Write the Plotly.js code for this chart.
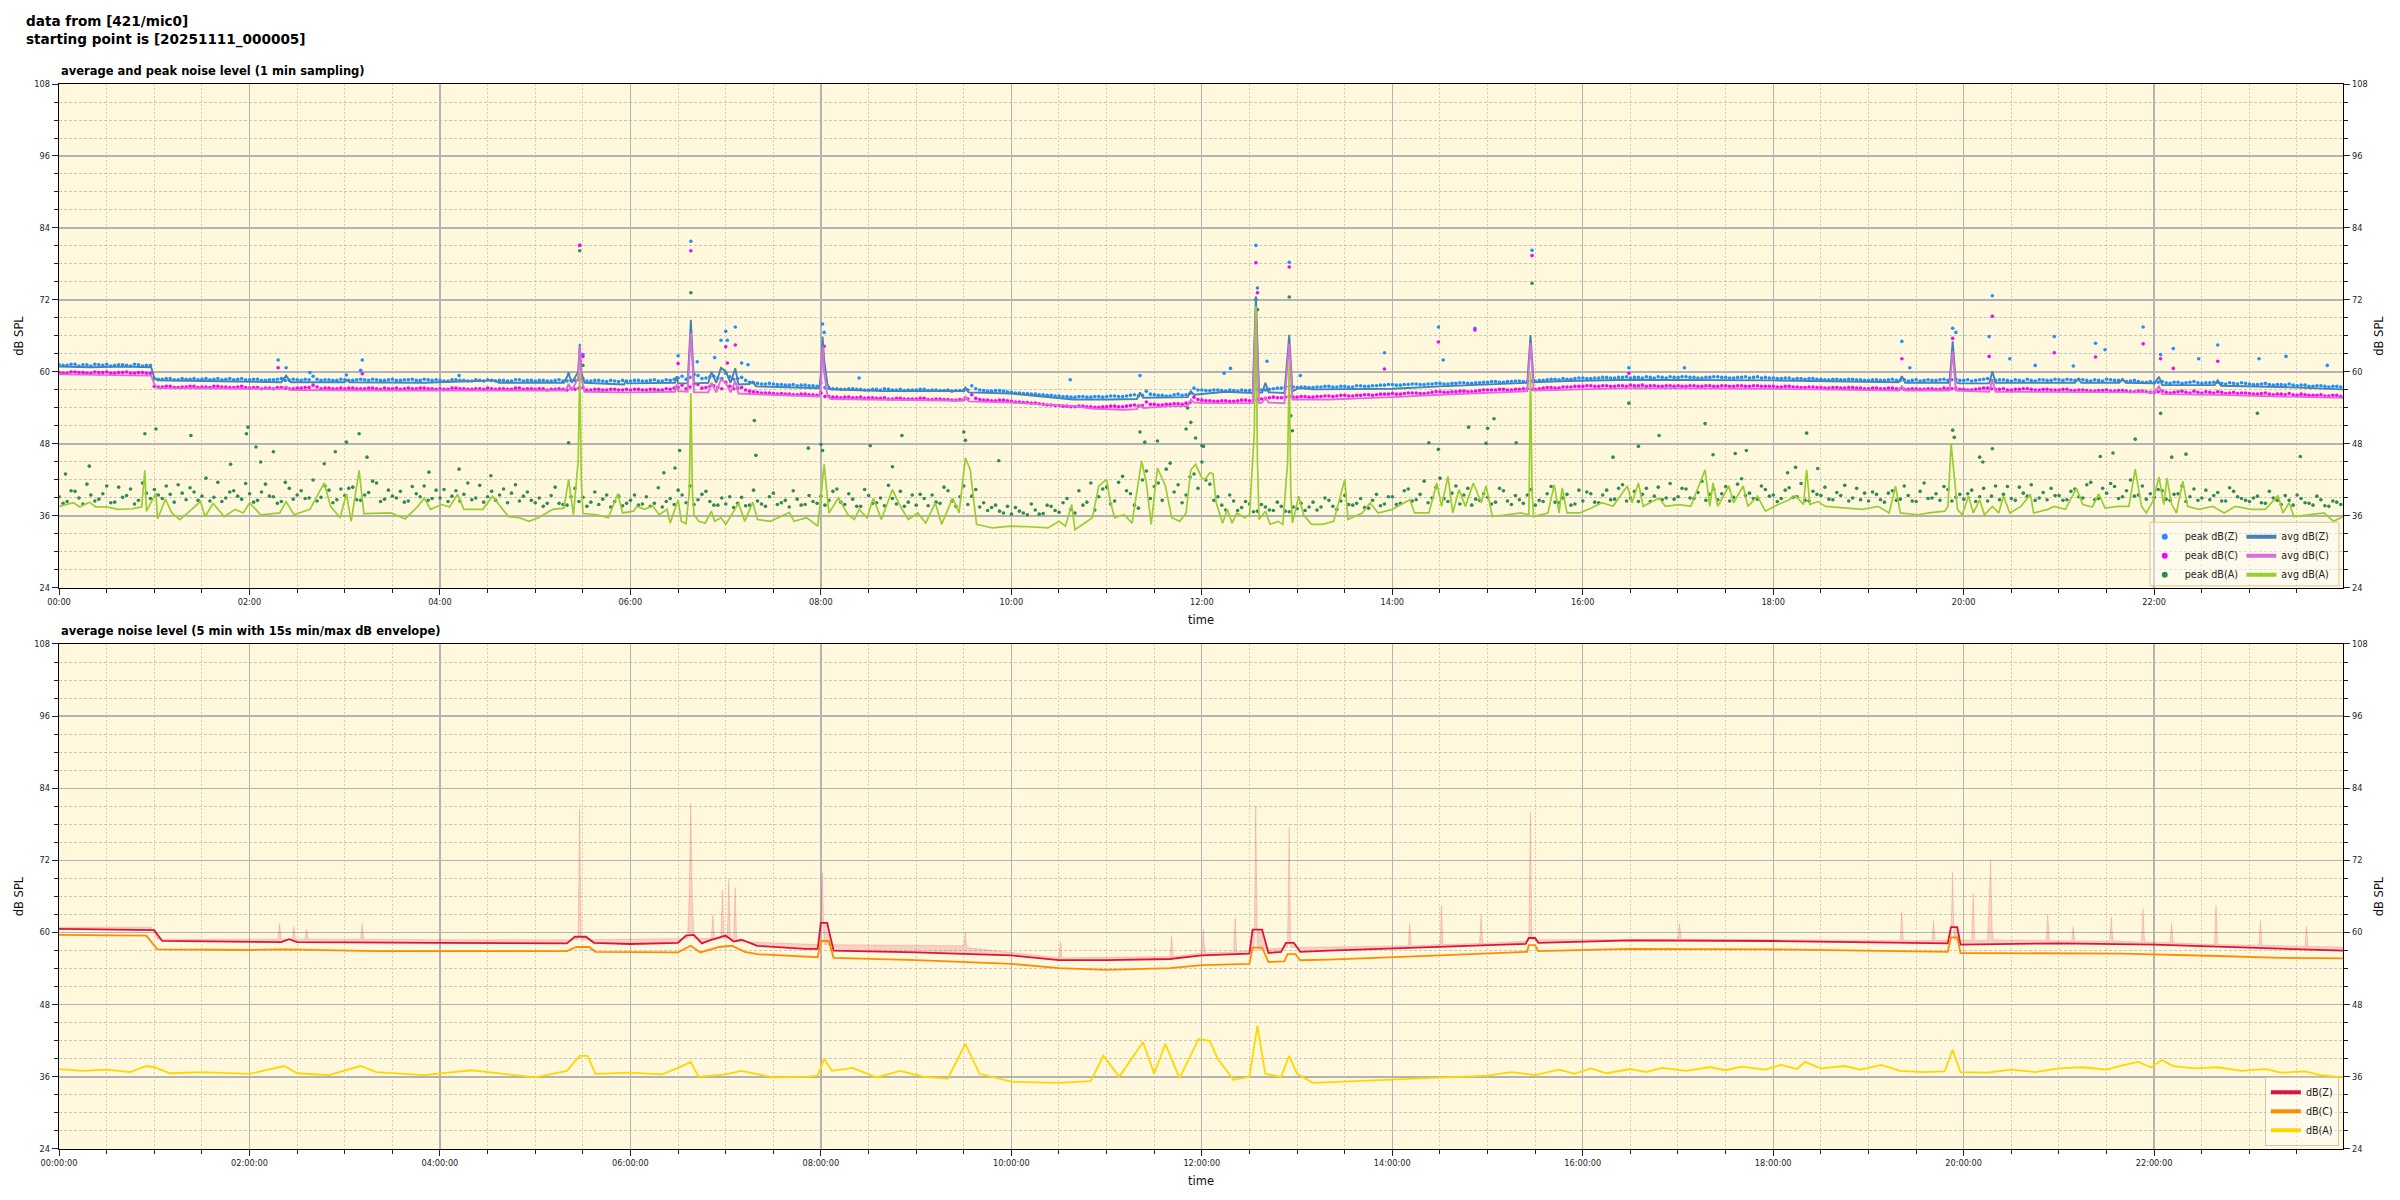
<!DOCTYPE html>
<html><head><meta charset="utf-8">
<script src="https://cdn.plot.ly/plotly-3.0.1.min.js"></script>
<style>html,body{margin:0;padding:0;background:#fff;}#chart{width:2400px;height:1200px;}</style>
</head><body><div id="chart"></div>
<script>
// ---------- top chart: 1-min averages (minute of day, dB) ----------
const avgZ_min=[0,20,40,58,60,62,90,120,140,143,146,180,181,183,230,275,277,318,321,323,327,328,329,331,356,357,358,388,389,390,396,398,400,409,411,414,417,420,423,426,428,435,437,439,470,479,480,481,482,484,486,520,560,569,571,573,600,620,639,660,679,681,683,711,713,715,725,735,752,754,756,758,760,762,772,775,777,781,790,840,870,900,925,927,929,950,990,1080,1120,1150,1159,1161,1163,1191,1193,1195,1197,1216,1218,1220,1270,1272,1274,1298,1300,1302,1320,1323,1325,1358,1360,1362,1400,1439];
const avgZ_db=[60.9,60.8,60.9,60.8,59.0,58.6,58.5,58.4,58.3,59.4,58.3,58.3,58.7,58.3,58.2,58.6,58.2,58.2,59.7,58.2,60.0,64.7,60.0,58.2,57.9,58.5,58.1,58.2,59.3,58.1,58.1,68.7,58.1,58.2,60.0,58.2,60.7,60.1,58.2,60.6,57.9,58.0,58.4,57.6,57.4,57.3,60.0,65.9,62.0,58.0,57.1,56.8,56.8,56.8,57.4,56.6,56.4,55.9,55.4,55.4,55.5,56.6,55.7,55.8,56.8,56.2,56.5,56.7,56.5,72.6,56.5,56.6,58.2,56.6,56.5,66.2,56.8,57.3,57.1,57.2,57.6,57.9,58.2,66.1,58.3,58.5,58.7,58.6,58.4,58.3,58.3,59.3,58.2,58.2,65.1,58.3,58.1,58.1,60.1,58.2,58.2,58.8,58.2,58.2,58.8,58.2,58.1,59.2,57.8,57.8,58.6,57.7,57.5,57.1];

const avgC_min=[0,58,60,62,120,141,143,146,200,319,321,323,327,328,329,331,358,388,389,390,396,398,400,409,411,414,417,420,423,426,428,440,479,480,481,482,484,486,540,569,571,573,600,620,640,650,670,679,681,683,700,711,713,715,724,752,754,756,758,760,762,772,775,777,800,840,870,925,927,929,990,1080,1120,1150,1159,1161,1163,1191,1193,1195,1216,1218,1220,1320,1323,1325,1360,1400,1439];
const avgC_db=[59.6,59.4,58.0,57.3,57.2,57.2,57.6,57.0,56.9,56.9,58.0,56.9,59.0,64.3,59.0,56.7,56.6,56.7,57.9,56.8,56.7,66.5,56.6,56.6,58.2,56.6,58.8,58.2,56.6,58.5,56.4,56.3,55.9,58.0,64.3,60.0,56.0,55.5,55.3,55.2,55.9,55.1,54.9,54.6,54.3,53.9,53.7,53.8,54.5,54.0,54.3,54.3,55.4,54.9,54.8,54.8,70.9,54.8,54.9,55.7,54.9,54.8,64.7,55.4,55.4,55.8,56.2,56.8,64.8,56.9,57.3,57.2,57.0,56.9,56.9,57.6,56.9,56.9,63.5,56.9,56.7,58.7,56.7,56.6,57.6,56.3,56.2,55.9,55.7];

const avgA_min=[0,9,13,19,23,30,37,46,52,54,55,61,62,67,71,76,81,89,92,97,104,111,116,120,127,139,143,148,158,167,171,177,181,184,189,192,209,218,226,230,234,241,246,251,255,267,273,278,283,290,296,302,311,318,321,324,327,328,329,330,339,346,352,355,362,364,369,374,378,383,385,390,392,395,397,398,399,400,403,407,411,413,417,420,428,432,437,440,448,453,460,463,471,478,480,482,485,491,497,501,504,509,513,518,525,530,535,541,546,552,556,563,567,571,574,578,588,599,611,623,630,634,638,640,651,655,660,662,665,671,676,682,685,688,692,697,701,706,710,713,716,720,722,725,727,729,733,736,739,742,747,750,753,754,755,756,760,763,768,771,774,775,776,777,781,784,789,796,803,810,812,821,826,831,840,851,854,863,868,871,875,878,882,886,891,896,899,903,912,921,926,927,928,929,938,942,945,947,950,958,965,972,979,988,991,995,998,1008,1012,1021,1028,1037,1040,1042,1045,1052,1055,1061,1064,1070,1075,1083,1090,1094,1099,1101,1103,1108,1113,1125,1136,1146,1153,1157,1160,1171,1178,1188,1190,1192,1193,1196,1199,1203,1206,1210,1213,1218,1222,1225,1229,1236,1242,1244,1253,1257,1264,1271,1275,1281,1285,1289,1297,1304,1308,1312,1315,1319,1323,1326,1328,1331,1334,1338,1341,1348,1357,1364,1371,1381,1390,1398,1401,1405,1408,1418,1427,1433,1439];
const avgA_db=[37.6,38.2,37.5,38.3,37.5,37.5,37.1,37.2,37.5,43.6,36.8,39.8,35.5,38.8,36.5,35.4,36.5,38.4,35.9,38.1,35.9,37.1,36.5,38.2,36.2,36.5,38.4,36.2,37.1,41.5,37.6,35.7,39.7,35.1,43.6,36.4,36.5,35.5,37.6,39.0,37.1,37.9,37.5,39.6,37.1,37.1,39.3,37.6,35.9,35.7,35.1,35.7,37.1,37.3,42.1,36.2,45.0,60.1,42.0,36.4,36.2,35.7,39.7,36.5,36.8,37.6,37.1,37.7,36.2,37.1,34.8,38.7,35.1,34.7,40.0,56.5,40.0,36.2,35.1,34.8,36.8,35.1,35.7,34.6,38.1,35.1,38.3,35.4,35.1,35.7,36.6,35.1,35.7,34.3,40.0,44.6,36.5,39.0,36.2,35.4,37.1,35.7,39.0,35.4,40.4,37.6,35.4,36.5,34.8,38.2,34.6,39.0,36.5,45.7,43.7,34.6,34.0,34.3,34.2,34.0,35.1,34.3,37.9,33.7,35.7,41.0,42.1,38.7,35.7,36.2,34.8,45.2,41.5,34.6,44.0,41.0,35.7,35.1,36.5,43.7,44.6,42.3,42.1,43.2,43.0,38.2,34.8,37.1,34.8,36.5,35.7,36.2,50.0,71.0,45.0,35.4,36.8,34.6,35.1,34.6,45.0,61.5,40.0,34.8,39.3,36.2,34.6,34.6,35.1,42.1,35.4,36.5,38.2,36.5,37.1,38.7,36.5,36.5,41.5,37.6,42.6,36.5,40.4,37.6,41.5,38.2,41.0,35.9,36.2,36.5,36.2,60.0,40.0,35.9,36.5,41.2,36.5,40.7,36.5,36.5,37.3,38.2,37.6,41.0,38.2,41.5,37.6,39.0,37.6,37.9,37.6,43.7,37.6,41.5,37.6,41.0,38.2,41.0,37.6,39.3,36.8,37.9,38.7,39.4,37.9,43.7,37.9,38.4,37.6,37.3,37.1,37.6,36.5,41.0,36.5,36.2,36.5,36.8,37.6,48.1,45.0,37.1,36.2,39.3,36.5,38.7,36.2,37.6,36.5,39.3,36.5,37.6,39.6,36.5,37.1,37.6,37.1,40.6,37.9,37.5,39.7,37.3,37.6,37.6,43.8,37.6,36.5,38.4,42.5,37.9,42.3,37.9,36.5,41.8,37.6,37.1,37.6,36.5,37.6,37.1,37.1,39.4,36.5,38.2,35.9,36.2,36.5,35.1,35.9];

// ---------- top chart: 1-min peaks, read every 5 min (one row per hour), at :00 and :02.5 ----------
const peakZ_5min=[
61.2,61.1,61.3,61.2,61.0,61.2,61.3,61.1,61.2,61.0,61.2,61.1,
58.9,58.8,58.9,58.7,58.8,58.9,58.8,58.7,58.9,58.8,58.7,58.9,
58.7,58.8,58.6,58.7,58.9,58.6,58.7,58.8,59.3,58.6,58.7,58.6,
58.7,58.6,58.8,58.6,58.7,58.6,58.8,58.6,58.7,58.6,58.8,58.6,
58.6,58.5,58.7,58.6,58.5,58.6,58.7,58.5,58.6,58.5,58.7,58.6,
58.5,58.6,58.5,58.7,58.5,58.6,58.9,58.5,58.6,58.4,58.5,58.6,
58.5,58.6,58.5,58.7,58.5,58.6,59.0,58.8,59.6,58.9,59.2,59.0,
59.8,58.8,59.1,58.3,58.1,58.0,58.0,57.9,57.8,57.7,57.8,57.7,
58.2,57.3,57.2,57.1,57.2,57.1,57.0,57.1,57.2,57.0,57.1,57.0,
57.0,57.1,57.0,56.9,57.0,56.9,56.9,57.7,57.0,56.8,56.9,56.8,
56.6,56.5,56.4,56.3,56.2,56.1,56.0,55.9,55.8,55.9,55.8,55.9,
55.9,56.0,55.9,56.1,56.0,56.8,56.2,56.1,56.0,56.3,56.2,57.3,
57.0,56.9,57.0,56.8,56.9,57.0,56.9,57.1,57.0,57.2,57.3,57.6,
57.4,57.5,57.4,57.5,57.6,57.5,57.6,57.5,57.7,57.6,57.7,57.8,
57.9,57.8,57.9,58.0,57.9,58.0,58.1,58.0,58.1,58.2,58.1,58.2,
58.3,58.4,58.3,58.4,58.5,58.4,58.5,58.6,58.8,58.7,58.8,58.9,
59.0,58.9,59.0,59.1,59.0,59.1,59.0,59.1,59.2,59.0,59.1,59.2,
59.1,59.2,59.1,59.0,59.1,59.2,59.1,59.0,59.1,59.0,59.2,59.1,
59.0,58.9,59.0,58.9,58.8,58.9,58.8,58.7,58.8,58.7,58.8,58.7,
58.6,58.7,58.6,58.8,58.6,58.5,58.7,58.6,58.6,58.7,58.6,58.8,
58.6,58.5,58.7,58.9,58.6,58.7,58.5,58.6,58.8,58.5,58.7,58.6,
58.7,58.8,58.6,58.7,58.5,58.6,58.8,58.6,58.7,58.5,58.4,58.3,
58.2,58.4,58.1,58.3,58.2,58.4,58.1,58.2,58.3,58.0,58.1,58.2,
58.0,57.9,58.1,57.8,57.9,58.0,57.7,57.8,57.6,57.7,57.5,57.6];
const peakZ_5min_b=[
61.1,61.3,61.0,61.2,61.3,61.1,61.0,61.2,61.1,61.3,61.0,61.1,
58.8,58.9,58.7,58.9,58.8,58.7,58.9,58.8,58.7,58.9,58.8,58.7,
58.8,58.6,58.7,58.8,58.6,58.8,58.6,58.7,58.8,58.7,58.6,58.8,
58.6,58.7,58.7,58.8,58.6,58.7,58.6,58.7,58.8,58.6,58.7,58.7,
58.5,58.7,58.6,58.5,58.7,58.5,58.6,58.6,58.5,58.7,58.5,58.6,
58.6,58.5,58.6,58.5,58.6,58.7,58.5,58.6,58.5,58.6,58.4,58.5,
58.6,58.5,58.6,58.5,58.7,58.8,59.3,59.1,59.4,59.0,59.3,58.9,
59.2,58.9,58.6,58.2,58.0,58.1,57.9,57.8,57.9,57.8,57.7,57.6,
57.4,57.2,57.1,57.2,57.1,57.0,57.1,57.0,57.1,57.0,56.9,57.0,
57.1,56.9,57.0,56.9,56.8,56.9,57.0,57.2,56.9,56.8,56.9,56.7,
56.5,56.4,56.3,56.2,56.1,56.0,55.9,55.8,55.9,55.8,55.9,55.8,
56.0,55.9,56.0,56.2,56.1,56.3,56.1,56.0,56.2,56.1,56.4,57.0,
56.9,57.0,56.9,57.0,56.8,56.9,57.0,57.0,57.1,57.3,57.4,57.5,
57.5,57.4,57.5,57.6,57.5,57.6,57.5,57.7,57.6,57.7,57.8,57.9,
57.8,57.9,58.0,57.9,58.0,58.1,58.0,58.1,58.2,58.1,58.2,58.3,
58.4,58.3,58.4,58.5,58.4,58.5,58.6,58.7,58.8,58.9,58.8,59.0,
58.9,59.0,59.1,59.0,59.1,59.2,59.1,59.0,59.1,59.2,59.0,59.1,
59.2,59.1,59.0,59.1,59.2,59.1,59.0,59.1,59.2,59.1,59.0,59.0,
58.9,59.0,58.8,58.9,58.9,58.8,58.7,58.8,58.7,58.8,58.7,58.6,
58.7,58.6,58.7,58.6,58.7,58.6,58.5,58.7,58.6,58.8,58.7,58.6,
58.7,58.6,58.8,58.6,58.7,58.6,58.7,58.5,58.6,58.7,58.6,58.8,
58.6,58.7,58.8,58.6,58.7,58.5,58.7,58.6,58.4,58.6,58.3,58.4,
58.3,58.2,58.3,58.1,58.3,58.2,58.2,58.3,58.1,58.2,58.0,58.1,
57.9,58.0,57.9,57.9,57.8,57.8,57.8,57.6,57.7,57.6,57.6,57.5];
const peakC_5min=[
59.9,59.8,60.0,59.9,59.8,59.9,60.0,59.8,59.9,59.8,59.9,59.8,
57.6,57.5,57.6,57.4,57.5,57.6,57.5,57.4,57.6,57.5,57.4,57.6,
57.3,57.4,57.3,57.2,57.4,57.2,57.3,57.4,57.8,57.2,57.3,57.2,
57.2,57.3,57.2,57.3,57.2,57.3,57.2,57.1,57.3,57.2,57.3,57.2,
57.2,57.1,57.3,57.2,57.1,57.2,57.3,57.1,57.2,57.1,57.3,57.2,
57.1,57.2,57.1,57.2,57.0,57.1,57.4,57.0,57.1,57.0,57.1,57.0,
57.0,57.1,57.0,57.1,57.0,57.1,57.4,57.2,58.0,57.3,57.6,57.4,
58.3,57.2,57.4,56.8,56.6,56.5,56.4,56.4,56.3,56.2,56.3,56.2,
56.5,55.9,55.8,55.8,55.7,55.8,55.7,55.6,55.7,55.5,55.6,55.5,
55.5,55.6,55.4,55.5,55.4,55.3,55.4,56.2,55.4,55.3,55.2,55.3,
55.1,55.0,54.9,54.8,54.6,54.5,54.4,54.3,54.2,54.3,54.2,54.1,
54.2,54.3,54.2,54.4,54.3,55.0,54.6,54.5,54.6,54.7,54.8,55.8,
55.3,55.2,55.1,55.2,55.1,55.3,55.2,55.4,55.6,55.8,55.7,55.9,
55.8,55.9,55.8,55.9,56.0,56.0,56.1,56.0,56.1,56.2,56.2,56.3,
56.4,56.3,56.5,56.5,56.4,56.6,56.7,56.6,56.7,56.8,56.7,56.9,
57.0,57.0,57.1,57.0,57.1,57.2,57.1,57.3,57.4,57.3,57.5,57.6,
57.6,57.7,57.6,57.7,57.6,57.7,57.8,57.7,57.6,57.7,57.6,57.7,
57.7,57.6,57.7,57.6,57.7,57.6,57.7,57.6,57.7,57.6,57.7,57.6,
57.6,57.5,57.6,57.5,57.4,57.5,57.4,57.3,57.4,57.3,57.4,57.3,
57.2,57.3,57.2,57.3,57.2,57.1,57.2,57.1,57.2,57.1,57.2,57.3,
57.1,57.0,57.2,57.3,57.1,57.2,57.0,57.1,57.2,57.0,57.1,57.0,
57.0,57.1,56.9,57.0,56.8,56.9,57.0,56.8,56.9,56.7,56.8,56.7,
56.6,56.8,56.5,56.7,56.6,56.8,56.5,56.6,56.7,56.4,56.6,56.5,
56.4,56.3,56.5,56.2,56.3,56.4,56.1,56.2,56.1,56.2,56.0,56.1];
const peakC_5min_b=[
59.8,60.0,59.9,59.8,60.0,59.9,59.8,59.9,60.0,59.8,59.9,59.8,
57.5,57.6,57.4,57.5,57.6,57.4,57.5,57.6,57.5,57.4,57.5,57.4,
57.4,57.2,57.3,57.4,57.3,57.2,57.3,57.4,57.5,57.3,57.2,57.3,
57.3,57.2,57.2,57.3,57.1,57.2,57.3,57.2,57.2,57.3,57.2,57.1,
57.1,57.3,57.2,57.1,57.2,57.1,57.2,57.2,57.1,57.3,57.1,57.2,
57.2,57.0,57.1,57.1,57.2,57.3,57.0,57.1,57.0,57.1,57.0,57.1,
57.1,57.0,57.1,57.0,57.2,57.3,57.8,57.5,57.9,57.4,57.7,57.2,
57.6,57.3,57.0,56.7,56.5,56.5,56.3,56.3,56.2,56.3,56.2,56.1,
55.9,55.8,55.7,55.8,55.7,55.6,55.7,55.6,55.5,55.6,55.5,55.5,
55.6,55.4,55.5,55.4,55.3,55.4,55.5,55.6,55.3,55.2,55.3,55.2,
55.0,54.9,54.8,54.7,54.5,54.4,54.3,54.2,54.3,54.2,54.1,54.2,
54.3,54.2,54.3,54.5,54.4,54.6,54.5,54.6,54.7,54.6,54.9,55.4,
55.2,55.1,55.2,55.1,55.2,55.3,55.3,55.5,55.7,55.7,55.8,55.8,
55.9,55.8,55.9,56.0,55.9,56.1,56.0,56.1,56.2,56.1,56.3,56.3,
56.3,56.4,56.5,56.4,56.5,56.7,56.6,56.7,56.8,56.7,56.8,57.0,
57.0,57.1,57.0,57.1,57.2,57.1,57.2,57.4,57.3,57.5,57.5,57.6,
57.7,57.6,57.7,57.6,57.7,57.6,57.7,57.8,57.7,57.6,57.7,57.6,
57.6,57.7,57.6,57.7,57.6,57.7,57.6,57.7,57.6,57.7,57.6,57.6,
57.5,57.6,57.5,57.4,57.5,57.4,57.3,57.4,57.3,57.4,57.3,57.2,
57.3,57.2,57.3,57.2,57.1,57.2,57.1,57.2,57.1,57.3,57.2,57.1,
57.0,57.1,57.3,57.2,57.1,57.0,57.1,57.2,57.1,57.0,57.1,57.0,
57.1,56.9,57.0,56.9,56.8,56.9,56.8,56.9,56.8,56.7,56.8,56.6,
56.7,56.6,56.6,56.8,56.5,56.6,56.7,56.5,56.6,56.5,56.4,56.5,
56.3,56.4,56.3,56.3,56.2,56.2,56.3,56.1,56.1,56.0,56.1,55.9];
const peakA_5min=[
39.2,38.4,40.1,38.0,39.5,38.8,41.0,38.3,39.1,40.5,38.6,39.8,
40.4,38.9,39.6,41.2,38.7,40.0,39.3,38.5,41.6,39.0,40.2,38.8,
39.7,38.6,41.3,39.2,38.4,40.6,39.5,38.9,42.0,39.1,40.3,38.7,
39.4,40.8,38.6,39.9,41.5,38.8,39.3,40.1,38.5,39.7,41.0,38.9,
39.0,38.4,40.2,39.6,38.7,41.1,39.2,38.6,40.5,39.8,38.5,40.0,
38.2,37.6,39.4,38.1,37.8,40.6,39.1,38.3,37.9,39.5,38.4,37.7,
38.6,37.8,39.2,38.1,37.5,38.9,40.3,38.2,37.9,39.6,38.4,37.8,
38.0,37.4,39.1,37.8,38.5,37.6,39.8,38.2,37.5,38.8,37.9,38.4,
39.3,38.6,40.5,37.9,38.8,37.6,39.4,38.2,37.7,38.9,40.1,38.3,
37.8,38.9,39.5,38.1,40.2,37.6,41.0,39.3,37.5,36.9,37.8,36.5,
36.3,36.8,36.2,37.0,36.4,37.6,36.6,38.9,36.5,37.8,41.5,39.2,
40.8,38.5,42.6,39.7,37.3,43.5,40.9,38.6,44.8,41.2,39.5,43.0,
45.0,41.3,39.2,37.0,38.5,37.4,38.0,36.8,37.5,36.9,37.6,36.7,
37.2,36.9,38.3,37.5,38.6,37.1,39.4,37.8,38.9,37.3,39.6,38.0,
39.2,38.1,40.5,38.7,41.8,39.0,42.3,38.4,41.0,39.5,37.8,38.6,
39.1,38.3,40.2,37.9,38.7,39.5,37.8,38.4,40.9,38.2,39.6,38.0,
38.5,39.7,38.2,40.3,38.8,41.2,39.0,38.4,40.6,39.3,38.7,41.4,
39.2,40.5,38.9,41.8,39.6,38.7,40.9,39.1,42.2,39.8,38.8,40.4,
39.5,38.9,40.7,39.2,38.6,40.1,39.4,38.8,39.9,41.1,39.0,38.7,
38.5,39.6,38.3,40.2,38.8,39.4,38.4,41.5,39.0,38.6,40.4,39.1,
38.8,40.3,39.2,38.5,41.0,39.6,38.9,40.8,39.3,38.6,39.9,40.6,
39.4,38.7,40.5,39.0,41.6,38.9,39.8,40.9,39.2,42.0,39.5,38.8,
39.1,40.2,38.6,39.7,38.4,40.5,39.0,38.7,39.9,38.5,40.1,38.9,
38.4,39.3,38.1,39.0,37.9,38.6,39.5,38.2,37.8,38.7,37.6,38.3];
const peakA_5min_b=[
38.1,40.2,39.0,41.3,38.5,39.7,38.2,40.8,39.4,38.0,41.5,38.9,
39.5,41.0,38.3,39.8,40.7,38.6,42.3,39.1,38.4,40.0,39.3,41.4,
38.3,40.0,39.3,38.1,41.6,38.8,40.2,39.0,38.5,41.0,38.2,40.5,
40.6,38.7,39.5,41.8,38.4,40.3,39.0,38.3,40.9,39.2,38.6,40.3,
40.4,39.3,38.5,41.5,39.0,38.3,40.1,39.5,38.2,41.2,39.3,38.6,
39.0,38.1,40.8,37.9,39.2,38.4,37.6,40.0,38.8,37.5,39.3,38.1,
39.5,38.0,37.6,40.7,38.4,37.9,39.5,41.0,38.7,40.1,37.8,39.0,
39.2,38.1,37.7,40.3,38.0,39.2,37.9,38.6,40.2,37.8,39.4,38.1,
37.8,40.1,38.3,39.7,37.6,40.4,38.1,39.0,41.1,38.0,37.6,39.5,
39.6,37.7,38.3,40.8,38.5,39.2,37.9,40.4,38.2,37.4,36.8,37.6,
37.4,36.5,38.0,36.3,37.8,36.9,38.2,37.1,40.2,38.3,37.0,40.5,
38.0,41.6,40.2,37.8,42.0,38.9,41.5,43.8,40.0,38.2,42.5,40.6,
42.0,38.6,37.8,39.5,36.9,38.4,36.7,37.9,37.0,38.3,36.8,37.5,
38.1,37.5,37.0,39.0,37.6,38.5,37.9,38.1,37.4,38.6,37.7,39.2,
37.9,40.2,38.5,39.6,38.2,40.8,38.9,39.8,38.0,40.6,38.8,39.7,
38.0,40.6,38.5,39.4,38.1,40.4,38.6,39.7,38.3,39.0,37.8,40.3,
40.0,38.3,39.5,38.7,40.6,38.5,40.1,39.6,38.4,40.8,39.0,38.8,
40.6,39.0,39.9,38.6,40.5,39.7,38.5,41.3,39.4,38.9,41.0,39.3,
38.4,40.3,39.1,41.4,38.5,39.6,40.8,38.7,39.4,38.5,40.6,39.8,
40.0,38.7,39.8,38.6,41.0,38.5,40.1,38.9,39.7,40.9,38.5,39.6,
39.7,38.4,40.6,39.3,38.7,40.9,38.6,39.8,41.2,39.0,38.7,39.4,
38.6,40.1,39.2,41.2,38.7,40.6,41.4,38.9,40.2,39.3,41.0,39.7,
40.4,38.8,39.6,41.0,39.2,38.6,40.3,39.4,38.5,40.7,39.2,38.6,
39.0,38.2,40.1,38.6,39.4,37.8,38.9,38.1,39.3,37.7,38.5,37.9];

// isolated peak readings (minute of day, dB)
const peakZ_out_min=[138,143,158,181,190,191,252,321,328,330,390,398,402,413,417,420,421,426,430,434,481,482,504,637,681,734,738,754,755,761,775,782,835,869,872,892,928,989,1024,1161,1166,1193,1195,1216,1218,1229,1245,1257,1269,1283,1289,1313,1324,1332,1348,1360,1386,1403,1429];
const peakZ_out_db=[62.0,60.7,59.9,59.5,60.3,62.0,59.4,59.7,81.1,62.9,62.7,81.8,61.7,62.4,65.3,66.8,65.3,67.5,61.5,61.2,68.0,66.6,59.0,58.7,59.4,59.8,60.6,81.1,74.0,61.8,78.3,59.4,63.2,67.5,62.0,67.3,80.3,60.7,60.7,65.1,60.7,67.3,66.6,65.9,72.7,62.2,61.1,65.9,61.0,64.8,63.7,67.5,62.9,63.9,62.2,64.5,62.2,62.6,61.1];
const peakC_out_min=[138,191,328,330,390,398,420,421,426,482,754,755,775,835,869,892,928,989,1161,1193,1216,1218,1257,1283,1313,1324,1332,1360];
const peakC_out_db=[60.7,59.7,81.1,62.6,61.4,80.2,64.2,61.5,64.5,64.3,78.2,73.2,77.5,60.5,65.0,67.0,79.4,59.8,62.2,65.6,62.6,69.3,63.2,62.5,64.7,62.2,60.6,61.8];
const peakA_out_min=[4,19,54,61,83,108,118,119,124,127,135,167,174,181,189,194,233,252,272,321,328,330,381,388,391,398,438,439,472,480,481,511,525,531,570,571,592,681,684,692,710,711,713,716,720,721,754,755,775,776,777,863,869,888,899,900,904,918,928,979,989,995,1008,1037,1042,1056,1063,1089,1094,1101,1108,1193,1194,1210,1212,1218,1286,1294,1308,1324,1331,1340,1385,1412];
const peakA_out_db=[43.0,44.3,49.7,50.5,49.4,44.6,49.7,50.8,47.5,45.0,46.7,44.7,46.7,48.3,49.7,45.8,43.3,43.8,42.7,48.2,80.2,61.1,43.2,44.0,46.9,73.2,51.9,46.1,47.3,47.9,46.9,47.7,44.2,49.4,50.0,48.6,45.2,50.0,48.3,48.5,50.5,54.0,51.6,49.0,47.7,47.6,72.1,70.4,72.5,52.7,50.2,48.2,47.1,50.8,48.1,50.6,52.2,48.2,74.8,45.8,54.8,47.6,49.4,51.4,46.2,46.4,46.9,43.2,44.1,49.8,43.9,50.3,49.1,45.8,45.0,47.2,45.9,46.5,48.8,53.1,45.8,46.3,53.1,45.9];

// ---------- bottom chart: 5-min averages and 15 s max envelope of dB(Z) ----------
const lvlZ_min=[0,55,60,65,120,140,145,150,240,320,325,332,337,360,390,395,400,405,410,420,425,430,440,470,478,480,484,488,540,600,630,660,700,720,750,752,758,762,770,773,778,782,800,870,924,926,930,932,990,1080,1150,1190,1192,1196,1198,1260,1320,1400,1439];
const lvlZ_db=[60.6,60.5,60.4,58.6,58.5,58.4,58.9,58.4,58.3,58.2,59.3,59.3,58.3,58.1,58.3,59.5,59.6,58.2,58.7,59.5,58.5,58.8,57.8,57.3,57.3,61.6,61.6,57.0,56.7,56.2,55.4,55.4,55.6,56.2,56.5,60.5,60.5,56.6,56.8,58.3,58.3,56.8,57.0,57.6,58.1,59.1,59.1,58.3,58.7,58.6,58.3,58.2,60.9,60.9,58.0,58.2,58.0,57.4,57.0];
const lvlC_min=[0,55,62,120,142,200,320,326,334,338,390,398,404,416,424,432,440,478,480,485,488,540,600,630,660,700,720,750,752,758,762,772,774,779,782,800,870,925,926,930,932,990,1080,1190,1192,1196,1198,1300,1360,1400,1439];
const lvlC_db=[59.6,59.5,57.2,57.1,57.2,56.9,56.9,57.6,57.6,56.8,56.7,57.8,56.7,57.6,57.8,56.8,56.4,55.9,58.6,58.6,55.8,55.4,54.8,54.1,53.8,54.1,54.6,54.8,57.5,57.5,55.1,55.2,56.4,56.4,55.4,55.5,56.2,56.8,57.9,57.9,56.9,57.3,57.2,56.8,59.2,59.2,56.6,56.5,56.1,55.8,55.7];
const lvlA_min=[0,15,30,45,55,60,70,90,120,142,150,170,190,200,230,260,280,300,320,328,333,338,360,380,390,398,403,420,430,450,470,478,482,487,500,515,530,545,560,571,580,600,630,650,658,668,683,690,697,706,718,725,730,740,750,755,760,770,775,780,790,820,860,900,915,930,945,955,965,975,990,1000,1010,1025,1040,1050,1060,1075,1085,1095,1100,1110,1125,1135,1148,1160,1175,1188,1193,1198,1215,1230,1245,1260,1275,1290,1300,1310,1318,1325,1332,1345,1360,1375,1390,1400,1415,1425,1439];
const lvlA_db=[37.3,37.0,37.2,36.8,37.8,37.6,36.6,36.8,36.5,37.8,36.6,36.3,37.8,36.8,36.3,37.1,36.5,35.9,37.0,39.5,39.5,36.5,36.7,36.4,37.5,38.5,36.0,36.4,37.0,35.9,36.0,36.2,39.0,37.0,37.5,35.9,37.0,36.0,35.7,41.5,36.5,35.2,35.0,35.3,39.5,36.0,41.8,36.5,41.5,35.8,42.3,42.0,39.0,35.5,36.0,44.5,36.5,36.0,39.5,36.5,35.0,35.3,35.8,36.2,36.8,36.3,37.2,36.5,37.4,36.6,37.3,36.8,37.5,37.0,37.6,37.1,37.7,37.2,38.0,37.3,38.5,37.4,37.8,37.2,38.0,37.0,36.8,36.9,40.5,36.8,36.7,37.2,36.8,37.4,37.6,37.2,37.9,38.5,37.6,38.8,37.8,37.4,37.6,37.0,37.3,36.7,36.9,36.3,35.9];
const envZ_min=[0,58,62,138,139,140,147,148,149,155,156,157,190,191,192,250,327,328,329,396,397,398,399,400,411,412,413,417,418,419,421,422,423,425,426,427,479,480,481,482,570,571,572,630,631,632,700,701,702,720,721,722,740,741,742,753,754,755,774,775,776,850,851,852,870,871,872,895,896,897,926,927,928,1020,1021,1022,1160,1161,1162,1180,1181,1182,1192,1193,1194,1205,1206,1207,1215,1216,1217,1218,1219,1252,1253,1254,1268,1269,1270,1292,1293,1294,1312,1313,1314,1330,1331,1332,1358,1359,1360,1386,1387,1388,1415,1416,1417,1439];
const envZ_db=[60.9,60.9,58.9,58.9,61.5,58.9,58.9,61.0,58.9,58.9,60.5,58.9,58.9,61.5,58.9,58.8,58.8,80.5,58.8,59.0,66.0,81.5,66.0,59.0,59.0,63.0,59.0,59.0,67.0,59.0,59.0,69.0,59.0,59.0,67.5,58.5,58.0,65.0,70.0,58.0,57.8,60.0,57.5,55.8,58.5,55.8,56.0,59.5,56.0,56.6,60.5,56.6,56.8,62.5,56.8,57.0,81.0,57.2,57.5,77.5,57.5,57.8,61.5,57.8,58.0,64.5,58.0,58.2,63.0,58.2,58.6,80.0,58.8,58.9,61.5,58.9,58.7,63.5,58.7,58.7,62.0,58.7,58.8,70.0,58.8,58.7,66.5,58.7,58.7,65.0,72.0,60.0,58.8,58.7,63.0,58.7,58.6,61.0,58.6,58.6,62.5,58.6,58.4,64.0,58.4,58.3,61.5,58.3,58.0,64.5,58.0,57.9,62.0,57.9,57.7,61.0,57.7,57.6];

// ---------- helpers ----------
const pad=n=>String(n).padStart(2,'0');
function stamp(min,offsetSec){const s=Math.round(min*60)+offsetSec;return '2025-11-11 '+pad(Math.floor(s/3600))+':'+pad(Math.floor(s%3600/60))+':'+pad(s%60);}
const tx=(arr,off)=>arr.map(m=>stamp(m,off));
const bandX=(arr,startMin)=>arr.map((v,i)=>stamp(i*5+startMin,5));
const FONT='DejaVu Sans';
const C={pZ:'#1e90ff',pC:'#ff00ff',pA:'#2e8b57',aZ:'#4682b4',aC:'#da70d6',aA:'#9acd32',bZ:'#dc143c',bC:'#ff8c00',bA:'#ffd700'};

function peakTrace(band,bandB,omin,odb,color){
  return {type:'scatter',mode:'markers',x:bandX(band,0).concat(bandX(bandB,2.5),tx(omin,5)),y:band.concat(bandB,odb),
    marker:{color:color,size:3.6,line:{width:0}},showlegend:false,hoverinfo:'skip',xaxis:'x',yaxis:'y'};
}
function lineTrace(mins,dbs,color,w,xa,ya,off){
  return {type:'scatter',mode:'lines',x:tx(mins,off),y:dbs,line:{color:color,width:w},showlegend:false,hoverinfo:'skip',xaxis:xa,yaxis:ya};
}
// legend-only entries (a single blank point so that the entry is listed)
function legLine(name,color,leg,xa,ya){return {type:'scatter',mode:'lines',x:[null],y:[null],name:name,line:{color:color,width:4},legend:leg,xaxis:xa,yaxis:ya,showlegend:true,hoverinfo:'skip'};}
function legDot(name,color,leg){return {type:'scatter',mode:'markers',x:[null],y:[null],name:name,marker:{color:color,size:6},legend:leg,xaxis:'x',yaxis:'y',showlegend:true,hoverinfo:'skip'};}

const traces=[
  peakTrace(peakZ_5min,peakZ_5min_b,peakZ_out_min,peakZ_out_db,C.pZ),
  peakTrace(peakC_5min,peakC_5min_b,peakC_out_min,peakC_out_db,C.pC),
  peakTrace(peakA_5min,peakA_5min_b,peakA_out_min,peakA_out_db,C.pA),
  lineTrace(avgZ_min,avgZ_db,C.aZ,1.9,'x','y',5),
  lineTrace(avgC_min,avgC_db,C.aC,1.9,'x','y',5),
  lineTrace(avgA_min,avgA_db,C.aA,1.7,'x','y',5),
  legDot('peak dB(Z)',C.pZ,'legend'),legDot('peak dB(C)',C.pC,'legend'),legDot('peak dB(A)',C.pA,'legend'),
  legLine('avg dB(Z)',C.aZ,'legend2','x','y'),legLine('avg dB(C)',C.aC,'legend2','x','y'),legLine('avg dB(A)',C.aA,'legend2','x','y'),
  // bottom
  lineTrace(lvlZ_min,lvlZ_db,'rgba(0,0,0,0)',0,'x2','y2',0),
  {type:'scatter',mode:'lines',x:tx(envZ_min,0),y:envZ_db,fill:'tonexty',fillcolor:'rgba(220,20,60,0.17)',line:{color:'rgba(220,20,60,0.2)',width:0.8},showlegend:false,hoverinfo:'skip',xaxis:'x2',yaxis:'y2'},
  lineTrace(lvlZ_min,lvlZ_db,C.bZ,1.8,'x2','y2',0),
  lineTrace(lvlC_min,lvlC_db,C.bC,1.8,'x2','y2',0),
  lineTrace(lvlA_min,lvlA_db,C.bA,1.8,'x2','y2',0),
  legLine('dB(Z)',C.bZ,'legend3','x2','y2'),legLine('dB(C)',C.bC,'legend3','x2','y2'),legLine('dB(A)',C.bA,'legend3','x2','y2'),
  {type:'scatter',mode:'lines',x:[null],y:[null],xaxis:'x',yaxis:'y3',showlegend:false,hoverinfo:'skip'},
  {type:'scatter',mode:'lines',x:[null],y:[null],xaxis:'x2',yaxis:'y4',showlegend:false,hoverinfo:'skip'}
];

const tickFont={family:FONT,size:8.2,color:'#222'};
const titleFont={family:FONT,size:11.5,color:'#111'};
const xRange=['2025-11-11 00:00:00','2025-11-11 23:59:00'];
function xAxis(anchor,fmt){return {type:'date',range:xRange,anchor:anchor,tick0:'2025-11-11 00:00:00',dtick:7200000,tickformat:fmt,
  ticks:'outside',ticklen:6,tickwidth:1,tickcolor:'#222',tickfont:tickFont,showline:true,linecolor:'#000',linewidth:1.4,mirror:true,
  showgrid:true,gridcolor:'#b3b3b3',gridwidth:1.3,zeroline:false,
  minor:{dtick:1800000,ticks:'outside',ticklen:3.5,tickcolor:'#222',showgrid:true,gridcolor:'#cdc3a6',griddash:'2px,2px',gridwidth:0.8},
  title:{text:'time',font:titleFont,standoff:9},automargin:false};}
function yAxis(extra){return Object.assign({range:[24,108],tick0:0,dtick:12,ticks:'outside',ticklen:6,tickwidth:1,tickcolor:'#222',tickfont:tickFont,
  showline:true,linecolor:'#000',linewidth:1.4,zeroline:false,automargin:false,
  minor:{dtick:3,ticks:'outside',ticklen:3.5,tickcolor:'#222'},title:{text:'dB SPL',font:titleFont,standoff:8}},extra);}
const yMinor={dtick:3,ticks:'outside',ticklen:3.5,tickcolor:'#222',showgrid:true,gridcolor:'#bdb9ad',griddash:'3px,2px',gridwidth:0.8};
const legFont={family:FONT,size:9.6,color:'#222'};

const layout={
  width:2400,height:1200,paper_bgcolor:'#ffffff',plot_bgcolor:'#fff8dc',
  margin:{l:59,r:57,t:84,b:51},hovermode:false,
  xaxis:xAxis('y','%H:%M'),
  xaxis2:xAxis('y2','%H:%M:%S'),
  yaxis:yAxis({domain:[0.5268,1],anchor:'x',showgrid:true,gridcolor:'#b3b3b3',gridwidth:1.3,minor:yMinor}),
  yaxis2:yAxis({domain:[0,0.4742],anchor:'x2',showgrid:true,gridcolor:'#b3b3b3',gridwidth:1.3,minor:yMinor}),
  yaxis3:yAxis({overlaying:'y',side:'right',anchor:'x',showgrid:false}),
  yaxis4:yAxis({overlaying:'y2',side:'right',anchor:'x2',showgrid:false}),
  annotations:[
    {text:'data from [421/mic0]<br>starting point is [20251111_000005]',xref:'paper',yref:'paper',x:-0.0153,y:1.0686,xanchor:'left',yanchor:'top',align:'left',showarrow:false,
      font:{family:FONT,size:13.6,weight:'bold',color:'#000'}},
    {text:'average and peak noise level (1 min sampling)',xref:'paper',yref:'paper',x:0,y:1,xanchor:'left',yanchor:'bottom',yshift:4,showarrow:false,
      font:{family:FONT,size:11.5,weight:'bold',color:'#000'}},
    {text:'average noise level (5 min with 15s min/max dB envelope)',xref:'paper',yref:'paper',x:0,y:0.4742,xanchor:'left',yanchor:'bottom',yshift:4,showarrow:false,
      font:{family:FONT,size:11.5,weight:'bold',color:'#000'}}
  ],
  shapes:[{type:'rect',xref:'paper',yref:'paper',x0:0.9155,x1:0.9982,y0:0.5288,y1:0.5885,fillcolor:'rgba(255,255,255,0.45)',line:{color:'#dcc79c',width:1},layer:'above'}],
  legend:{x:0.9132,xanchor:'left',y:0.5885,yanchor:'top',traceorder:'normal',bgcolor:'rgba(0,0,0,0)',borderwidth:0,font:legFont,tracegroupgap:0,itemsizing:'trace'},
  legend2:{x:0.9555,xanchor:'left',y:0.5885,yanchor:'top',traceorder:'normal',bgcolor:'rgba(0,0,0,0)',borderwidth:0,font:legFont,tracegroupgap:0},
  legend3:{x:0.9982,xanchor:'right',y:0.003,yanchor:'bottom',traceorder:'normal',bgcolor:'rgba(255,255,255,0.45)',bordercolor:'#dcc79c',borderwidth:1,font:legFont,tracegroupgap:0}
};
Plotly.newPlot('chart',traces,layout,{staticPlot:true,displayModeBar:false});
</script></body></html>
